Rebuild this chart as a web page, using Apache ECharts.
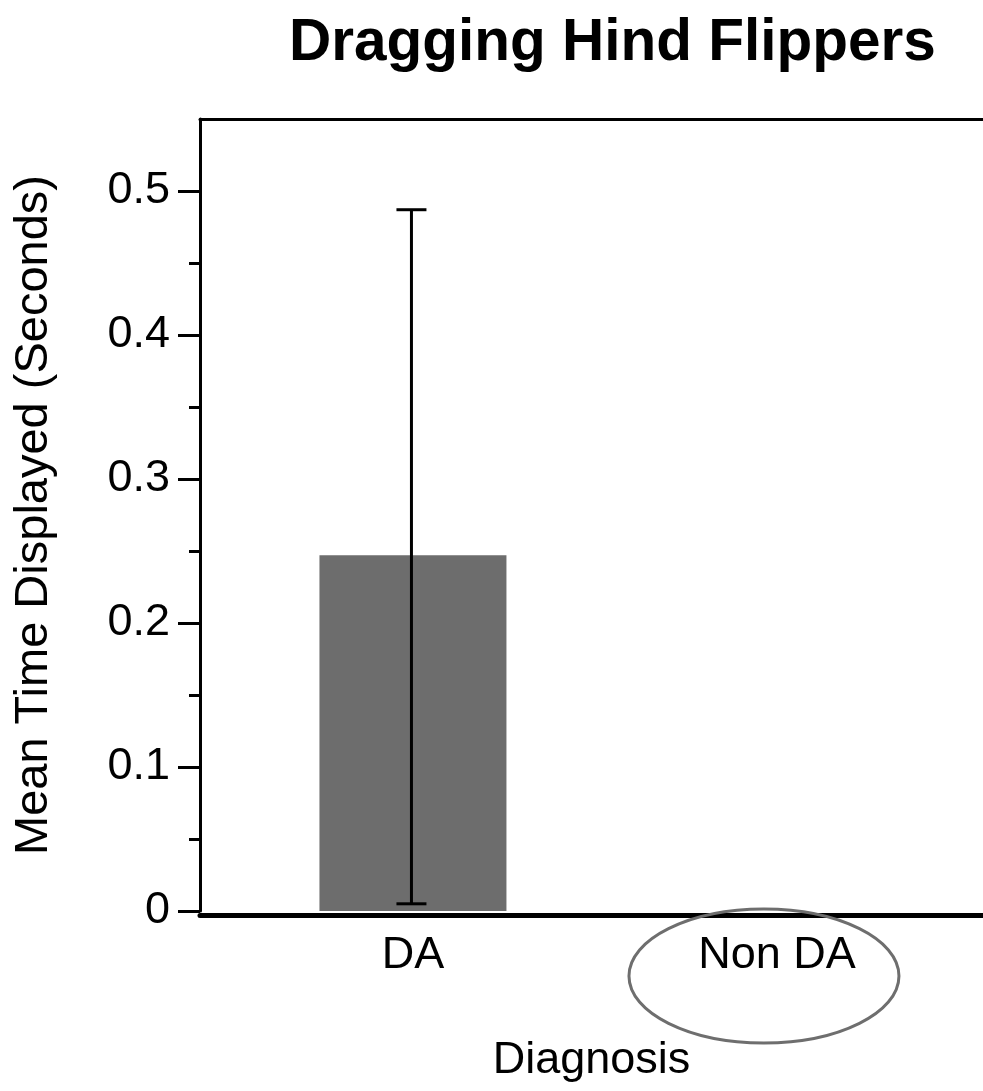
<!DOCTYPE html>
<html>
<head>
<meta charset="utf-8">
<script src="https://cdn.jsdelivr.net/npm/echarts@6/dist/echarts.min.js"></script>
<style>
  html, body { margin: 0; padding: 0; background: #ffffff; }
  #chart { width: 983px; height: 1091px; }
</style>
</head>
<body>
<div id="chart"></div>
<script>
// Diagnosis groups and their x positions on the value axis
const categories = ['DA', 'Non DA'];
const categoryPos = [0, 1];
// Mean time displayed (seconds) per group
const meanValues = [0.247, 0];
// Error bar ends (seconds) for the DA group
const errLow = [0.005];
const errHigh = [0.487];
// Y axis ticks
const yTicks = [0, 0.1, 0.2, 0.3, 0.4, 0.5];
const yMinorTicks = [0.05, 0.15, 0.25, 0.35, 0.45];

const FONT = "'Liberation Sans', Arial, Helvetica, sans-serif";

const chart = echarts.init(document.getElementById('chart'), null, { renderer: 'canvas' });

const barData = categoryPos.map((x, i) => [x, meanValues[i]]);
const errData = errLow.map((lo, i) => [categoryPos[i], lo, errHigh[i]]);

const option = {
  backgroundColor: '#ffffff',
  animation: false,
  title: {
    text: 'Dragging Hind Flippers',
    left: 284,
    top: 9,
    textStyle: { fontFamily: FONT, fontSize: 58.5, fontWeight: 'bold', color: '#000' }
  },
  grid: { left: 200, right: 0, top: 119, bottom: 180, containLabel: false },
  xAxis: [
    {
      type: 'value',
      position: 'bottom',
      min: -0.585,
      max: 1.566,
      offset: 4,
      splitLine: { show: false },
      axisLine: { show: true, onZero: false, lineStyle: { color: '#000', width: 5 } },
      axisTick: { show: false },
      axisLabel: {
        customValues: categoryPos,
        formatter: v => categories[categoryPos.indexOf(v)] || '',
        fontFamily: FONT, fontSize: 45, color: '#000', margin: 18
      },
      name: 'Diagnosis',
      nameLocation: 'middle',
      nameGap: 123,
      nameTextStyle: { fontFamily: FONT, fontSize: 45, color: '#000' }
    },
    {
      type: 'value',
      position: 'top',
      min: -0.585,
      max: 1.566,
      splitLine: { show: false },
      axisLine: { show: true, onZero: false, lineStyle: { color: '#000', width: 3 } },
      axisTick: { show: false },
      axisLabel: { show: false }
    }
  ],
  yAxis: [
    {
      type: 'value',
      position: 'left',
      min: 0,
      max: 0.55,
      splitLine: { show: false },
      axisLine: { show: true, onZero: false, lineStyle: { color: '#000', width: 3 } },
      axisTick: { show: true, customValues: yTicks, length: 22, lineStyle: { color: '#000', width: 3 } },
      axisLabel: {
        customValues: yTicks,
        fontFamily: FONT, fontSize: 45, color: '#000', margin: 30
      },
      name: 'Mean Time Displayed (Seconds)',
      nameLocation: 'middle',
      nameGap: 142,
      nameTextStyle: { fontFamily: FONT, fontSize: 47, color: '#000' }
    },
    {
      // minor ticks halfway between the labelled ticks
      type: 'value',
      position: 'left',
      min: 0,
      max: 0.55,
      splitLine: { show: false },
      axisLine: { show: false, onZero: false },
      axisTick: { show: true, customValues: yMinorTicks, length: 11, lineStyle: { color: '#000', width: 3 } },
      axisLabel: { show: false }
    }
  ],
  series: [
    {
      type: 'bar',
      xAxisIndex: 0,
      yAxisIndex: 0,
      data: barData,
      barWidth: 187,
      itemStyle: { color: '#6d6d6d' }
    },
    {
      type: 'custom',
      xAxisIndex: 0,
      yAxisIndex: 0,
      data: errData,
      z: 5,
      renderItem: (params, api) => {
        const top = api.coord([api.value(0), api.value(2)]);
        const bot = api.coord([api.value(0), api.value(1)]);
        const x = top[0] - 1.5;
        const half = 15;
        const style = { stroke: '#000', lineWidth: 3 };
        return {
          type: 'group',
          children: [
            { type: 'line', shape: { x1: x, y1: top[1], x2: x, y2: bot[1] }, style },
            { type: 'line', shape: { x1: x - half, y1: top[1], x2: x + half, y2: top[1] }, style },
            { type: 'line', shape: { x1: x - half, y1: bot[1], x2: x + half, y2: bot[1] }, style }
          ]
        };
      }
    },
    {
      // ring drawn around the "Non DA" axis label
      type: 'custom',
      xAxisIndex: 0,
      yAxisIndex: 0,
      data: [[categoryPos[1], 0]],
      clip: false,
      z: 10,
      silent: true,
      renderItem: (params, api) => {
        const p = api.coord([api.value(0), api.value(1)]);
        return {
          type: 'ellipse',
          shape: { cx: p[0] - 13, cy: p[1] + 65, rx: 135, ry: 67 },
          style: { fill: 'none', stroke: '#6e6e6e', lineWidth: 3 }
        };
      }
    }
  ]
};

chart.setOption(option);
</script>
</body>
</html>
